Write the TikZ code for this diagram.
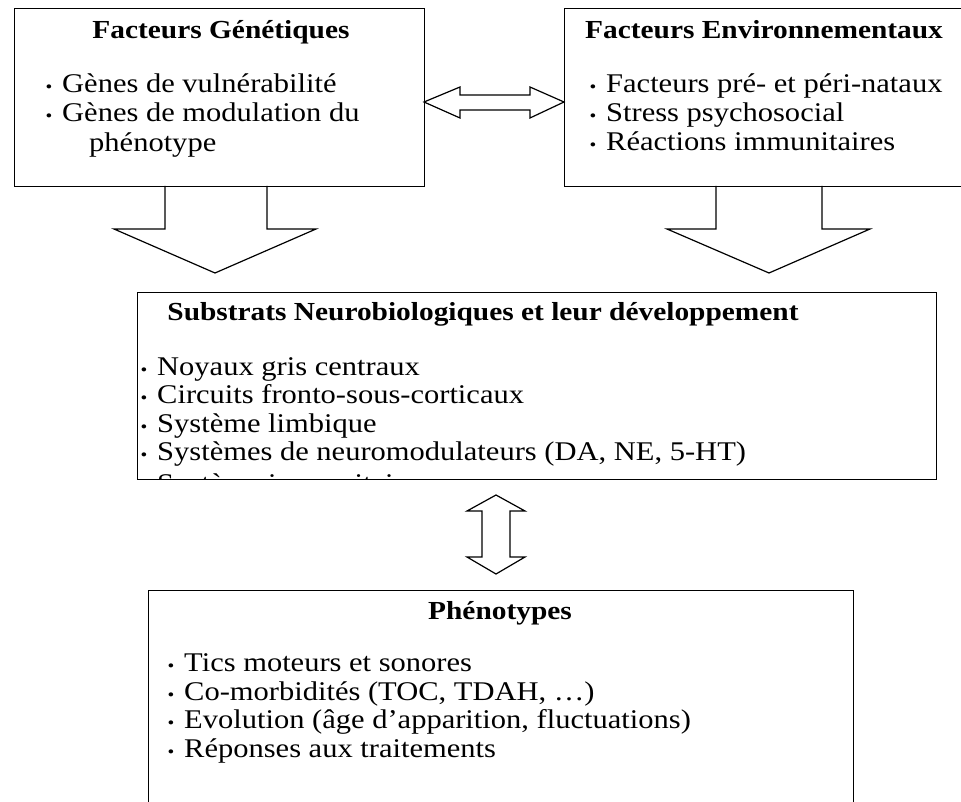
\documentclass[tikz,border=0pt]{standalone}
\usepackage{fontspec}
\setmainfont{Liberation Serif}[FakeStretch=1.13]
\usetikzlibrary{calc}
\newcommand\bline[5]{%
  \node[bul] (#1b) at (#2,#4) {•};
  \node[txt] (#1) at (#3,#4) {#5};}
\begin{document}
\begin{tikzpicture}[x=1pt,y=-1pt,
  frame/.style={draw, line width=1.2pt, rectangle, inner sep=0pt, anchor=north west},
  txt/.style={anchor=base west, inner sep=0pt, font=\fontsize{27}{30}\selectfont},
  ttl/.style={anchor=base, inner sep=0pt, font=\fontsize{26}{30}\selectfont\bfseries},
  bul/.style={anchor=base, inner sep=0pt, font=\fontsize{17}{17}\selectfont},
  blockarrow/.style={draw, line width=1.2pt, line join=miter}]
\useasboundingbox (0,0) rectangle (961,802);
\clip (0,0) rectangle (961,802);

% boxes
\node[frame, minimum width=410pt, minimum height=178pt] (G) at (14,8) {};
\node[frame, minimum width=420pt, minimum height=178pt] (E) at (564,8) {};
\node[frame, minimum width=799pt, minimum height=187pt] (S) at (137,292) {};
\node[frame, minimum width=705pt, minimum height=240pt] (P) at (148,590) {};

% Facteurs Genetiques
\node[ttl] (Gt) at (221,39) {Facteurs Génétiques};
\bline{g1}{49}{62}{93}{Gènes de vulnérabilité}
\bline{g2}{49}{62}{122}{Gènes de modulation du}
\node[txt] (g3) at (89,152) {phénotype};

% Facteurs Environnementaux
\node[ttl, anchor=base west] (Et) at (585,39) {Facteurs Environnementaux};
\bline{e1}{593}{606}{93}{Facteurs pré- et péri-nataux}
\bline{e2}{593}{606}{122}{Stress psychosocial}
\bline{e3}{593}{606}{151}{Réactions immunitaires}

% Substrats
\node[ttl] (St) at (483,320) {Substrats Neurobiologiques et leur développement};
\bline{s1}{144}{157}{375}{Noyaux gris centraux}
\bline{s2}{144}{157}{403}{Circuits fronto-sous-corticaux}
\bline{s3}{144}{157}{432}{Système limbique}
\bline{s4}{144}{157}{460}{Systèmes de neuromodulateurs (DA, NE, 5-HT)}
\begin{scope}
\clip (137,292) rectangle (936,479);
\bline{s5}{144}{157}{492}{Système immunitaire}
\end{scope}

% Phenotypes
\node[ttl] (Pt) at (500,619) {Phénotypes};
\bline{p1}{171}{184}{671}{Tics moteurs et sonores}
\bline{p2}{171}{184}{700}{Co-morbidités (TOC, TDAH, …)}
\bline{p3}{171}{184}{728}{Evolution (âge d’apparition, fluctuations)}
\bline{p4}{171}{184}{757}{Réponses aux traitements}

% block arrows
\coordinate (gtip) at (215,273);
\coordinate (etip) at (769,273);
\draw[blockarrow] (165,186) -- (165,229) -- (114,229) -- (gtip) -- (316,229) -- (267,229) -- (267,186);
\draw[blockarrow] (716,186) -- (716,229) -- (667,229) -- (etip) -- (870,229) -- (822,229) -- (822,186);

\coordinate (hl) at (424,102);
\coordinate (hr) at (564,102);
\draw[blockarrow] (hl) -- (460,87) -- (460,95) -- (530,95) -- (530,87) -- (hr)
  -- (530,118) -- (530,110) -- (460,110) -- (460,118) -- cycle;

\coordinate (vt) at (496,495);
\coordinate (vb) at (496,574);
\draw[blockarrow] (vt) -- (525,511) -- (510,511) -- (510,557) -- (525,557) -- (vb)
  -- (467,557) -- (482,557) -- (482,511) -- (467,511) -- cycle;
\end{tikzpicture}
\end{document}
